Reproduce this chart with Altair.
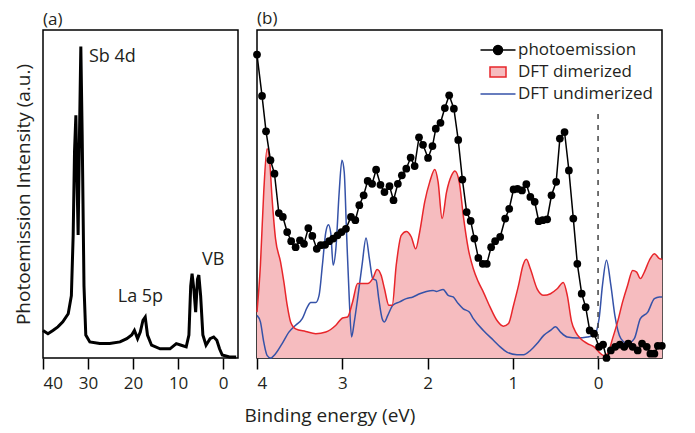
import altair as alt
import pandas as pd

a_be = [40, 38.9, 37.8, 36.7, 35.6, 34.4, 33.7, 33.3, 33.0, 32.7, 32.5, 32.2, 31.9, 31.6, 31.3,
        30.9, 30.5, 29.6, 27.4, 25.2, 22.9, 21.4, 20.3, 19.7, 19.0, 18.4, 17.8, 17.3, 16.8, 15.9,
        14.0, 11.8, 10.4, 9.3, 8.2, 7.6, 7.2, 6.9, 6.5, 6.1, 5.7, 5.4, 5.0, 4.5, 3.8, 2.9, 2.1,
        1.4, 0.8, 0.2, -1.4, -2.9]
a_int = [8.4, 7.4, 8.4, 9.5, 11.0, 13.5, 19.0, 37.5, 63.0, 74.0, 58.0, 37.5, 68.0, 95.0, 68.0,
         22.0, 7.0, 4.9, 4.4, 4.4, 4.9, 5.9, 7.0, 8.4, 5.9, 7.9, 11.5, 12.5, 7.0, 3.9,
         2.8, 2.8, 4.4, 3.9, 3.4, 7.0, 22.0, 25.7, 21.0, 14.0, 24.0, 25.3, 19.0, 7.0, 3.9, 5.9, 6.4,
         5.4, 2.8, 0.9, 0.3, 0.3]

pe_be = [4.000, 3.941, 3.894, 3.842, 3.795, 3.744, 3.697, 3.646, 3.599, 3.547, 3.496, 3.449,
         3.398, 3.351, 3.299, 3.252, 3.201, 3.154, 3.107, 3.056, 3.009, 2.957, 2.898, 2.847,
         2.800, 2.749, 2.702, 2.650, 2.603, 2.552, 2.505, 2.446, 2.399, 2.348, 2.301, 2.249,
         2.198, 2.151, 2.100, 2.053, 1.994, 1.942, 1.903, 1.848, 1.797, 1.746, 1.691, 1.640,
         1.591, 1.541, 1.494, 1.451, 1.404, 1.352, 1.305, 1.254, 1.207, 1.148, 1.089, 1.042,
         0.991, 0.944, 0.892, 0.841, 0.794, 0.743, 0.696, 0.649, 0.597, 0.546, 0.491, 0.448,
         0.393, 0.342, 0.290, 0.243, 0.192, 0.145, 0.098, 0.047, -0.012, -0.059, -0.099, -0.150,
         -0.201, -0.256, -0.307, -0.354, -0.406, -0.465, -0.516, -0.571, -0.614, -0.661, -0.701,
         -0.748]
pe_int = [92.5, 79.9, 69.1, 60.3, 56.2, 44.2, 43.0, 38.4, 35.6, 33.8, 35.9, 34.8,
          39.6, 37.2, 33.3, 34.4, 34.5, 35.6, 36.4, 37.4, 38.4, 39.4, 43.0, 42.0,
          46.6, 49.6, 54.0, 53.1, 57.4, 52.8, 50.6, 52.4, 48.1, 53.1, 55.7, 57.7,
          61.1, 58.5, 67.3, 65.0, 61.0, 64.6, 69.9, 71.7, 76.2, 80.1, 76.0, 66.5,
          54.4, 44.5, 41.8, 36.4, 30.5, 28.7, 28.7, 33.8, 35.6, 36.9, 42.5, 45.5,
          51.4, 51.6, 51.1, 53.0, 49.1, 47.6, 41.7, 42.0, 42.3, 49.6, 53.7, 66.9,
          68.9, 57.2, 42.5, 28.7, 19.6, 15.5, 8.4, 7.4, 3.4, 4.1, 0.0, 2.3,
          3.4, 4.1, 3.4, 4.4, 3.4, 2.3, 4.4, 3.4, 1.3, 1.3, 3.7,
          3.7]

dim_be = [4.000, 3.960, 3.921, 3.882, 3.854, 3.823, 3.783, 3.724, 3.685, 3.646, 3.606, 3.547,
          3.429, 3.311, 3.193, 3.075, 2.997, 2.938, 2.879, 2.820, 2.761, 2.702, 2.643, 2.591,
          2.544, 2.505, 2.454, 2.414, 2.367, 2.308, 2.249, 2.190, 2.139, 2.092, 2.033, 1.974,
          1.915, 1.876, 1.829, 1.777, 1.718, 1.679, 1.628, 1.581, 1.522, 1.463, 1.404, 1.345,
          1.266, 1.187, 1.109, 1.050, 0.991, 0.932, 0.880, 0.841, 0.794, 0.715, 0.637, 0.558,
          0.479, 0.408, 0.361, 0.310, 0.263, 0.204, 0.125, 0.047, -0.012, -0.064, -0.111, -0.170,
          -0.229, -0.288, -0.347, -0.406, -0.453, -0.496, -0.543, -0.602, -0.661, -0.720, -0.752]
dim_int = [14.0, 28.3, 50.6, 63.8, 60.8, 48.6, 36.4, 29.3, 23.2, 16.1, 11.0, 8.9,
           8.1, 7.4, 7.9, 10.0, 12.2, 12.5, 17.1, 22.7, 22.7, 22.7, 24.2, 27.0,
           25.2, 21.1, 16.1, 16.1, 28.3, 37.4, 38.6, 36.9, 33.3, 38.4, 47.6, 53.7,
           57.5, 53.7, 42.5, 50.6, 55.7, 57.0, 53.7, 43.5, 33.3, 27.2, 23.2, 20.1,
           15.5, 11.5, 9.7, 10.5, 16.1, 22.2, 28.3, 30.1, 27.2, 21.1, 19.1, 19.6,
           21.1, 23.0, 19.1, 11.0, 7.9, 5.9, 4.4, 3.4, 1.8, 0.8, 1.3, 5.9,
           11.0, 17.1, 22.2, 26.7, 26.2, 24.2, 26.2, 29.8, 31.8, 30.3, 30.1]

und_be = [4.000, 3.960, 3.921, 3.882, 3.842, 3.783, 3.705, 3.626, 3.547, 3.469, 3.410, 3.370,
          3.311, 3.272, 3.233, 3.193, 3.162, 3.134, 3.107, 3.075, 3.036, 3.004, 2.977, 2.950,
          2.918, 2.891, 2.859, 2.820, 2.768, 2.721, 2.682, 2.643, 2.603, 2.572, 2.532, 2.505,
          2.466, 2.407, 2.328, 2.249, 2.171, 2.092, 2.013, 1.935, 1.895, 1.817, 1.758, 1.699,
          1.640, 1.581, 1.510, 1.463, 1.345, 1.227, 1.148, 1.069, 0.951, 0.873, 0.794, 0.715,
          0.637, 0.558, 0.499, 0.440, 0.361, 0.243, 0.125, 0.047, -0.012, -0.052, -0.099, -0.150,
          -0.197, -0.268, -0.347, -0.425, -0.496, -0.583, -0.661, -0.720, -0.752]
und_int = [13.0, 11.0, 4.9, 0.8, 0.0, 1.3, 4.4, 7.9, 10.0, 12.0, 15.5, 16.9,
           16.9, 19.1, 28.3, 38.4, 40.6, 37.9, 28.3, 33.3, 50.6, 60.3, 56.7, 38.4,
           18.1, 6.4, 11.0, 18.1, 28.3, 36.6, 30.3, 24.2, 23.7, 18.1, 12.0, 11.0,
           13.0, 16.1, 17.1, 18.1, 18.6, 19.6, 20.3, 20.6, 20.3, 20.9, 19.1, 18.6,
           16.6, 15.0, 14.0, 12.0, 8.4, 5.4, 3.4, 1.8, 1.0, 1.0, 2.3, 4.4,
           6.9, 8.4, 9.5, 7.9, 6.4, 6.1, 6.4, 6.9, 12.0, 22.2, 29.8, 22.2,
           13.0, 5.9, 4.4, 5.9, 12.0, 14.0, 18.1, 18.6, 18.6]

ann_text = ["Sb 4d", "La 5p", "VB"]
ann_be = [29.8, 23.4, 4.7]
ann_int = [91.8, 18.6, 29.9]

ef_be = [0.0, 0.0]
ef_int = [74.4, 0.0]

ticks_a = [40, 30, 20, 10, 0]
ticks_b = [4, 3, 2, 1, 0]

series = ["photoemission", "DFT dimerized", "DFT undimerized"]

FONT = "Open Sans"
TXT = "#231f20"
PINK = "#f6bcbf"
RED = "#e8262b"
BLUE = "#3552a8"

df_a = pd.DataFrame({"be": a_be, "I": a_int})
df_pe = pd.DataFrame({"be": pe_be, "I": pe_int})
df_dim = pd.DataFrame({"be": dim_be, "I": dim_int})
df_und = pd.DataFrame({"be": und_be, "I": und_int})
df_ann = pd.DataFrame({"t": ann_text, "be": ann_be, "I": ann_int})
df_ef = pd.DataFrame({"be": ef_be, "I": ef_int})
df_leg = pd.DataFrame({"series": series})

H = 328
tick_kw = dict(ticks=True, tickColor="black", tickSize=11, tickWidth=1.5, tickOpacity=1,
               labelPadding=6)

xa = alt.X("be:Q", scale=alt.Scale(domain=[-3.3, 40], reverse=True, nice=False, zero=False),
           axis=alt.Axis(values=ticks_a, title=None, format="d", **tick_kw))
ya = alt.Y("I:Q", scale=alt.Scale(domain=[0, 100], nice=False, zero=False),
           axis=alt.Axis(labels=False, ticks=False, domain=False,
                         title="Photoemission Intensity (a.u.)", titlePadding=10))

line_a = alt.Chart(df_a).mark_line(color="black", strokeWidth=3).encode(x=xa, y=ya)
text_a = alt.Chart(df_ann).mark_text(align="left", baseline="middle", font=FONT, fontSize=18,
                                     color=TXT).encode(x=xa, y=ya, text="t:N")
panel_a = alt.layer(line_a, text_a).properties(
    width=195, height=H,
    title=alt.TitleParams("(a)", anchor="start", frame="group", font=FONT, fontSize=17,
                          fontWeight="normal", color=TXT, offset=1))

xb = alt.X("be:Q", scale=alt.Scale(domain=[-0.75, 4], reverse=True, nice=False, zero=False),
           axis=alt.Axis(values=ticks_b, format="d", title="Binding energy (eV)",
                         titleAnchor="start", titleAlign="left", titleX=-13, titleY=63,
                         titleBaseline="alphabetic", **tick_kw))
yb = alt.Y("I:Q", scale=alt.Scale(domain=[0, 100], nice=False, zero=False), axis=None)

area_dim = alt.Chart(df_dim).mark_area(interpolate="monotone", color=PINK).encode(x=xb, y=yb)
line_dim = alt.Chart(df_dim).mark_line(interpolate="monotone", color=RED, strokeWidth=1.5).encode(x=xb, y=yb)
line_und = alt.Chart(df_und).mark_line(interpolate="monotone", color=BLUE, strokeWidth=1.5).encode(x=xb, y=yb)
ef_line = alt.Chart(df_ef).mark_line(color="#444444", strokeWidth=1.5, strokeDash=[5, 6]).encode(x=xb, y=yb)
pe_line = alt.Chart(df_pe).mark_line(color="black", strokeWidth=1.5).encode(x=xb, y=yb)
pe_pts = alt.Chart(df_pe).mark_circle(color="black", size=60, opacity=1).encode(x=xb, y=yb)

leg_paths = [
    "M-1.75,0H1.75M-0.45,0A0.45,0.45 0 1,0 0.45,0A0.45,0.45 0 1,0 -0.45,0Z",
    "M-0.8,-0.5H0.8V0.5H-0.8Z",
    "M-1.75,0H1.75",
]
fill_expr = ("datum.value === 'photoemission' ? 'black' : "
             "(datum.value === 'DFT dimerized' ? '" + PINK + "' : 'transparent')")
leg_kw = dict(title=None, orient="top-right", offset=9, padding=0, rowPadding=3,
              symbolSize=400, symbolStrokeWidth=1.5, labelFont=FONT, labelFontSize=17,
              labelColor=TXT, labelOffset=9, labelLimit=300,
              symbolFillColor={"expr": fill_expr})
legend_layer = alt.Chart(df_leg).mark_point(filled=True, opacity=0).encode(
    x=alt.value(0), y=alt.value(0),
    fill=alt.Fill("series:N", scale=alt.Scale(domain=series, range=["black", PINK, "transparent"]),
                  legend=alt.Legend(**leg_kw)),
    stroke=alt.Stroke("series:N", scale=alt.Scale(domain=series, range=["black", RED, BLUE]),
                      legend=alt.Legend(**leg_kw)),
    shape=alt.Shape("series:N", scale=alt.Scale(domain=series, range=leg_paths),
                    legend=alt.Legend(**leg_kw)),
)

panel_b = alt.layer(area_dim, line_und, line_dim, ef_line, pe_line, pe_pts,
                    legend_layer).properties(
    width=405, height=H,
    title=alt.TitleParams("(b)", anchor="start", frame="group", font=FONT, fontSize=17,
                          fontWeight="normal", color=TXT, offset=1))

chart = alt.hconcat(panel_a, panel_b, spacing=0).resolve_scale(
    fill="independent", stroke="independent", shape="independent"
).resolve_legend(
    fill="independent", stroke="independent", shape="independent"
).properties(
    padding={"left": 5, "top": 0, "right": 5, "bottom": 0}
).configure_view(
    stroke="black", strokeWidth=1.5
).configure_axis(
    domain=False, grid=False,
    labelFont=FONT, labelFontSize=17, labelColor=TXT,
    titleFont=FONT, titleFontSize=19, titleFontWeight="normal", titleColor=TXT
)

chart.save("out.html", embed_options={"renderer": "svg", "actions": False})
